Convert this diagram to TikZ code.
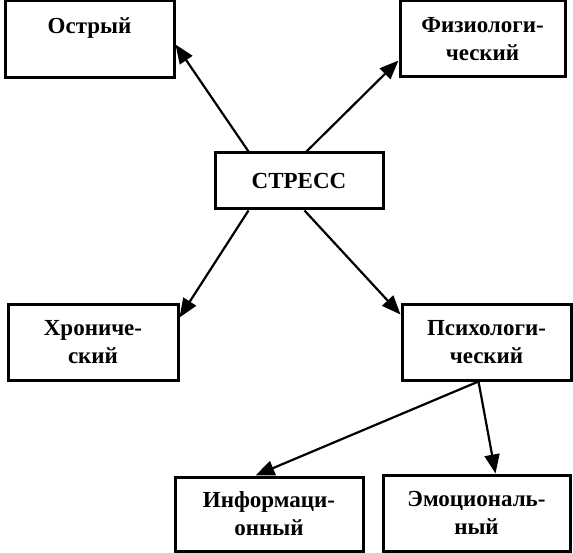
\documentclass[tikz,border=0pt]{standalone}
\usepackage{fontspec}
\setmainfont{Liberation Serif}
\usetikzlibrary{arrows.meta,calc}
\tikzset{
  box/.style={draw, line width=3pt, inner sep=0pt, align=center,
    font=\fontsize{23}{28}\selectfont\bfseries},
  arr/.style={line width=2.2pt, -{Triangle[length=19pt,width=15pt]}}
}
\begin{document}
\begin{tikzpicture}[x=1pt,y=-1pt]
\useasboundingbox (0,0) rectangle (573,553);
\node[box, minimum width=169pt, minimum height=77pt] (ostry) at (89.5,39.5) {Острый\\~};
\node[box, minimum width=165pt, minimum height=76pt] (fiz) at (482.5,39) {Физиологи-\\ческий};
\node[box, minimum width=168pt, minimum height=56pt] (stress) at (299,181) {СТРЕСС};
\node[box, minimum width=170pt, minimum height=75pt] (khron) at (93,342.5) {Хрониче-\\ский};
\node[box, minimum width=169pt, minimum height=75pt] (psy) at (486.5,342.5) {Психологи-\\ческий};
\node[box, minimum width=188pt, minimum height=74pt] (inf) at (269,514) {Информаци-\\онный};
\node[box, minimum width=187pt, minimum height=76pt] (emo) at (476.5,513) {Эмоциональ-\\ный};
\draw[arr] ($(stress.north west)+(35,0)$) -- ($(ostry.north east)+(0,45)$);
\draw[arr] ($(stress.north west)+(93,0)$) -- ($(fiz.north west)+(0,61)$);
\draw[arr] ($(stress.south west)+(35,0)$) -- ($(khron.north east)+(0,14)$);
\draw[arr] ($(stress.south west)+(91,0)$) -- ($(psy.north west)+(0,11)$);
\draw[arr] ($(psy.south west)+(78,0)$) -- ($(inf.north west)+(82,0)$);
\draw[arr] ($(psy.south west)+(78,0)$) -- ($(emo.north west)+(114,0)$);
\end{tikzpicture}
\end{document}
